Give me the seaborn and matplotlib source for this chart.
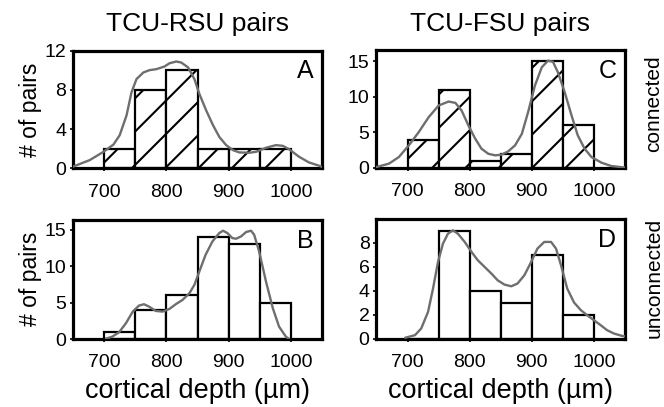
import matplotlib
matplotlib.use("Agg")
import matplotlib.pyplot as plt
import seaborn as sns

### Dados
bordas = [700, 750, 800, 850, 900, 950, 1000]
centros = [725, 775, 825, 875, 925, 975]

cont_A = [2, 8, 10, 2, 2, 2]        # TCU-RSU conectados
cont_B = [1, 4, 6, 14, 13, 5]       # TCU-RSU nao conectados
cont_C = [4, 11, 1, 2, 15, 6]       # TCU-FSU conectados
cont_D = [0, 9, 4, 3, 7, 2]         # TCU-FSU nao conectados

kde_x_A = [650, 677, 699, 715, 725, 736, 744, 752, 763, 773, 784, 797, 805, 816, 824, 835, 845,
           853, 864, 875, 885, 896, 907, 917, 933, 944, 960, 976, 987, 997, 1013, 1029, 1045, 1050]
kde_y_A = [0.17, 0.84, 1.68, 2.42, 3.37, 5.39, 7.74, 9.09, 9.76, 10.0, 10.1, 10.37, 10.7, 10.88, 10.77,
           10.27, 9.09, 7.58, 5.89, 4.38, 3.2, 2.36, 1.85, 1.62, 1.58, 1.68, 2.09, 2.36, 2.29, 1.95,
           1.18, 0.6, 0.27, 0.15]

kde_x_B = [703, 713, 724, 735, 746, 756, 764, 772, 783, 794, 805, 815, 826, 837, 845, 853, 863, 874,
           885, 891, 898, 906, 912, 920, 928, 936, 941, 949, 960, 971, 981, 992, 997]
kde_y_B = [0.05, 0.32, 0.92, 2.16, 3.76, 4.59, 4.77, 4.45, 3.85, 3.76, 4.13, 4.77, 5.37, 6.28, 7.43,
           9.27, 11.56, 13.39, 14.54, 14.86, 14.54, 13.85, 13.76, 14.08, 14.68, 14.86, 14.31, 12.02,
           7.89, 4.22, 1.7, 0.32, 0.0]

kde_x_C = [650, 670, 686, 702, 718, 734, 750, 766, 777, 787, 798, 809, 819, 830, 841, 851, 862, 873,
           884, 894, 905, 916, 926, 934, 942, 953, 964, 974, 985, 996, 1012, 1028, 1047, 1050]
kde_y_C = [0.14, 0.61, 1.54, 3.18, 5.05, 7.15, 8.79, 9.35, 9.16, 8.08, 5.98, 4.11, 2.71, 2.0, 1.78,
           1.87, 2.34, 3.18, 4.81, 7.85, 11.6, 14.16, 15.1, 14.95, 13.46, 10.65, 7.38, 4.58, 2.71,
           1.54, 0.75, 0.28, 0.09, 0.08]

kde_x_D = [696, 712, 722, 733, 741, 749, 757, 765, 773, 781, 792, 803, 813, 824, 835, 845, 856, 867,
           877, 888, 899, 909, 920, 931, 939, 947, 957, 968, 979, 989, 1000, 1011, 1021, 1032, 1045, 1050]
kde_y_D = [0.06, 0.28, 0.84, 2.23, 4.18, 6.41, 7.94, 8.77, 9.05, 8.77, 8.08, 7.24, 6.55, 5.99, 5.43,
           4.87, 4.51, 4.37, 4.6, 5.29, 6.41, 7.52, 8.08, 8.08, 7.52, 6.13, 4.18, 3.01, 2.37, 1.95,
           1.53, 1.11, 0.7, 0.42, 0.22, 0.18]

titulos = ["TCU-RSU pairs", "TCU-FSU pairs"]
linhas = ["connected", "unconnected"]
xticks = [700, 800, 900, 1000]

### Estilo
sns.set_style("ticks")
plt.rcParams["font.family"] = ["Liberation Sans", "DejaVu Sans"]
plt.rcParams["text.color"] = "black"
plt.rcParams["axes.labelcolor"] = "black"
plt.rcParams["hatch.linewidth"] = 1.5
plt.rcParams["hatch.color"] = "black"

W, H = 664, 407
def pos(l, t, r, b):
    return [l / W, 1 - b / H, (r - l) / W, (b - t) / H]

fig = plt.figure(figsize=(6.64, 4.07), dpi=100)

paineis = [
    ("A", pos(73, 50.5, 322, 168.3), cont_A, kde_x_A, kde_y_A, True, 12, [0, 4, 8, 12]),
    ("C", pos(376.5, 50, 625, 168), cont_C, kde_x_C, kde_y_C, True, 16.6, [0, 5, 10, 15]),
    ("B", pos(73, 219.5, 322, 339), cont_B, kde_x_B, kde_y_B, False, 16.4, [0, 5, 10, 15]),
    ("D", pos(376.5, 219, 625, 338.5), cont_D, kde_x_D, kde_y_D, False, 10, [0, 2, 4, 6, 8]),
]

for letra, caixa, cont, kx, ky, hachura, ymax, yticks in paineis:
    ax = fig.add_axes(caixa)
    sns.histplot(x=centros, weights=cont, bins=bordas, ax=ax, color="white", alpha=1,
                 edgecolor="black", linewidth=1.6, hatch="/" if hachura else None, zorder=2)
    sns.lineplot(x=kx, y=ky, ax=ax, color="#6e6e6e", linewidth=1.7, zorder=3)
    ax.set_xlim(650, 1050)
    ax.set_ylim(0, ymax)
    ax.set_xticks(xticks)
    ax.set_yticks(yticks)
    for s in ax.spines.values():
        s.set_visible(True)
        s.set_linewidth(2.3)
        s.set_color("black")
    ax.tick_params(direction="out", length=2.5, width=1.2, labelsize=14, colors="black")
    ax.tick_params(axis="x", pad=8.5)
    ax.tick_params(axis="y", pad=2.5)
    ax.set_ylabel("")
    ax.set_xlabel("")
    ax.text(0.965, 0.765, letra, transform=ax.transAxes, ha="right", va="baseline", fontsize=18)
    if letra in ("A", "B"):
        ax.set_ylabel("# of pairs", fontsize=16.5, labelpad=2)
    if letra in ("B", "D"):
        ax.set_xlabel("cortical depth (\u00b5m)", fontsize=19.5, labelpad=5)

fig.text(197.5 / W, 1 - 30.5 / H, titulos[0], ha="center", va="baseline", fontsize=19)
fig.text(500 / W, 1 - 30.5 / H, titulos[1], ha="center", va="baseline", fontsize=19)
fig.text(654 / W, 1 - 104 / H, linhas[0], ha="center", va="center", rotation=90, fontsize=15)
fig.text(654 / W, 1 - 278 / H, linhas[1], ha="center", va="center", rotation=90, fontsize=15)

fig.savefig("out.png", dpi=100)
